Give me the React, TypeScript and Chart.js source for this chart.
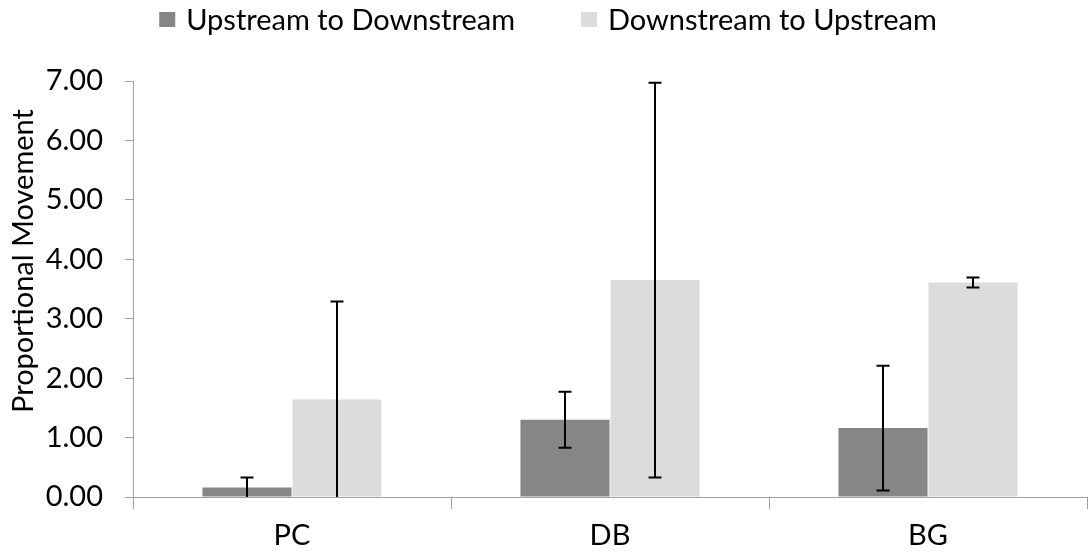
import React, { useEffect, useRef } from "react";
import { Chart, registerables } from "chart.js";

Chart.register(...registerables);

// ---- data ----
const categories = ["PC", "DB", "BG"];
const seriesNames = ["Upstream to Downstream", "Downstream to Upstream"];
const upToDown = [0.16, 1.3, 1.16];
const downToUp = [1.64, 3.65, 3.61];
const upToDownErr = [0.17, 0.47, 1.05];
const downToUpErr = [1.65, 3.32, 0.085];
const yMin = 0;
const yMax = 7;
const yStep = 1;
const yTitle = "Proportional Movement";

const FONT = "Lato, 'DejaVu Sans', sans-serif";
const FONT_SIZE = 29;
const DARK = "#868686";
const LIGHT = "#dcdcdc";
const AXIS = "#a0a0a0";

const errorBarPlugin = {
  id: "errorBars",
  afterDatasetsDraw(chart: any) {
    const ctx = chart.ctx;
    const y = chart.scales.y;
    const area = chart.chartArea;
    chart.data.datasets.forEach((ds: any, di: number) => {
      const meta = chart.getDatasetMeta(di);
      meta.data.forEach((bar: any, i: number) => {
        const v = ds.data[i];
        const e = ds.errors[i];
        const hiVal = Math.min(v + e, yMax);
        const loVal = v - e;
        const x = bar.x;
        const yHi = y.getPixelForValue(hiVal);
        const yLo = y.getPixelForValue(Math.max(loVal, yMin));
        const cap = 6.5;
        ctx.save();
        ctx.beginPath();
        ctx.rect(area.left, area.top - 2, area.right - area.left, area.bottom - area.top + 2);
        ctx.clip();
        ctx.strokeStyle = "#000";
        ctx.lineWidth = 2;
        ctx.beginPath();
        ctx.moveTo(x, yHi);
        ctx.lineTo(x, yLo);
        ctx.moveTo(x - cap, yHi);
        ctx.lineTo(x + cap, yHi);
        if (loVal > yMin) {
          ctx.moveTo(x - cap, yLo);
          ctx.lineTo(x + cap, yLo);
        }
        ctx.stroke();
        ctx.restore();
      });
    });
  },
};

const legendAndTitlePlugin = {
  id: "legendAndTitle",
  afterDraw(chart: any) {
    const ctx = chart.ctx;
    ctx.save();
    ctx.font = `${FONT_SIZE}px ${FONT}`;
    ctx.fillStyle = "#000";
    ctx.textBaseline = "middle";
    const box = 16;
    const gapBoxText = 11;
    const gapItems = 66;
    const items = chart.data.datasets.map((ds: any) => ({
      label: ds.label,
      color: ds.backgroundColor,
      w: ctx.measureText(ds.label).width,
    }));
    const total =
      items.reduce((s: number, it: any) => s + box + gapBoxText + it.w, 0) +
      gapItems * (items.length - 1);
    let x = 548 - total / 2;
    const cy = 19.5;
    items.forEach((it: any) => {
      ctx.fillStyle = it.color;
      ctx.fillRect(x, cy - 7.5, box, 15);
      x += box + gapBoxText;
      ctx.fillStyle = "#000";
      ctx.textAlign = "left";
      ctx.fillText(it.label, x, cy + 1);
      x += it.w + gapItems;
    });
    // y axis title
    ctx.translate(24, 261);
    ctx.rotate(-Math.PI / 2);
    ctx.textAlign = "center";
    ctx.fillText(yTitle, 0, 0);
    ctx.restore();
  },
};

export default function App() {
  const ref = useRef<HTMLCanvasElement | null>(null);
  useEffect(() => {
    document.body.style.margin = "0";
    const canvas = ref.current;
    if (!canvas) return;
    const chart = new Chart(canvas, {
      type: "bar",
      data: {
        labels: categories,
        datasets: [
          {
            label: seriesNames[0],
            data: upToDown,
            errors: upToDownErr,
            backgroundColor: DARK,
            borderWidth: 0,
          } as any,
          {
            label: seriesNames[1],
            data: downToUp,
            errors: downToUpErr,
            backgroundColor: LIGHT,
            borderWidth: 0,
          } as any,
        ],
      },
      options: {
        responsive: false,
        animation: false,
        devicePixelRatio: 1,
        layout: { padding: { left: 0, right: 3, top: 81, bottom: 0 } },
        datasets: { bar: { categoryPercentage: 0.566, barPercentage: 0.99 } },
        plugins: {
          legend: { display: false },
          title: { display: false },
          tooltip: { enabled: false },
        },
        scales: {
          x: {
            grid: {
              display: true,
              drawOnChartArea: false,
              offset: true,
              tickLength: 12,
              color: AXIS,
            },
            border: { color: AXIS, width: 1 },
            ticks: {
              color: "#000",
              font: { family: FONT, size: FONT_SIZE },
              padding: 9,
            },
            afterFit(scale: any) {
              scale.height = 60;
            },
          },
          y: {
            min: yMin,
            max: yMax,
            grid: {
              display: true,
              drawOnChartArea: false,
              tickLength: 8,
              color: AXIS,
            },
            border: { color: AXIS, width: 1 },
            ticks: {
              stepSize: yStep,
              color: "#000",
              font: { family: FONT, size: FONT_SIZE },
              padding: 22,
              callback: (v: any) => Number(v).toFixed(2),
            },
            afterFit(scale: any) {
              scale.width = 133;
            },
          },
        },
      },
      plugins: [errorBarPlugin, legendAndTitlePlugin],
    });
    return () => chart.destroy();
  }, []);
  return (
    <div style={{ width: 1090, height: 557 }}>
      <canvas ref={ref} width={1090} height={557} style={{ display: "block" }} />
    </div>
  );
}
